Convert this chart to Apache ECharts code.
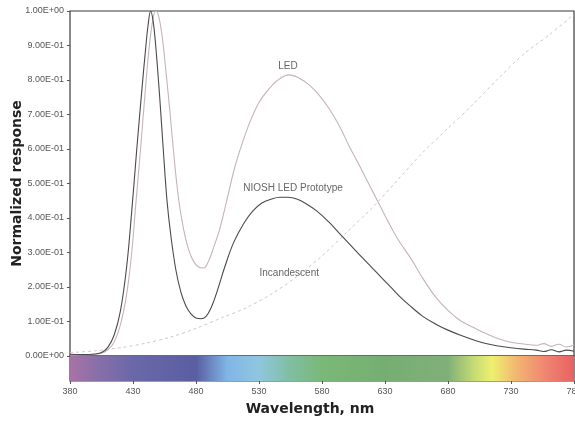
<!DOCTYPE html>
<html><head><meta charset="utf-8">
<script src="https://cdn.jsdelivr.net/npm/echarts@6/dist/echarts.min.js"></script>
<style>html,body{margin:0;padding:0;background:#fff}#c{width:575px;height:421px}</style>
</head><body><div id="c"></div>
<script>
// NIOSH LED Prototype spectrum
const nioshWl = [380,390,400,405,410,415,420,425,429,433,437,440,442,444,446,448,451,454,457,460,464,468,472,476,480,484,488,492,497,503,510,518,525,532,540,547,553,560,568,576,585,594,603,612,620,627,635,643,651,660,670,680,690,700,710,720,730,740,750,756,762,768,774,780];
const nioshVal = [0.005,0.004,0.006,0.01,0.025,0.06,0.13,0.26,0.42,0.6,0.77,0.89,0.96,1.0,0.97,0.9,0.76,0.6,0.45,0.35,0.25,0.185,0.145,0.122,0.11,0.108,0.115,0.14,0.19,0.26,0.33,0.385,0.42,0.443,0.455,0.46,0.46,0.455,0.44,0.42,0.39,0.355,0.32,0.285,0.255,0.228,0.198,0.168,0.142,0.115,0.093,0.075,0.06,0.047,0.036,0.029,0.024,0.02,0.017,0.013,0.018,0.012,0.017,0.014];
// LED spectrum
const ledWl = [380,390,400,405,410,415,420,425,429,432,436,440,443,446,448,450,453,456,459,462,466,470,474,478,482,486,490,494,499,505,511,517,523,530,537,545,554,562,570,578,586,594,602,610,617,624,631,640,651,660,670,680,690,700,710,720,730,740,750,756,762,768,774,780];
const ledVal = [0.003,0.003,0.005,0.008,0.018,0.04,0.09,0.18,0.3,0.43,0.6,0.78,0.9,0.98,1.0,0.99,0.93,0.83,0.72,0.6,0.46,0.37,0.31,0.275,0.258,0.255,0.275,0.315,0.37,0.46,0.55,0.62,0.68,0.735,0.77,0.8,0.815,0.805,0.785,0.755,0.715,0.665,0.605,0.55,0.5,0.45,0.4,0.34,0.28,0.225,0.172,0.132,0.102,0.083,0.065,0.05,0.04,0.035,0.031,0.036,0.028,0.034,0.026,0.032];
// Incandescent spectrum
const incWl = [380,400,420,440,460,480,500,520,540,560,580,600,620,640,660,680,700,720,740,760,780];
const incVal = [0.01,0.015,0.024,0.037,0.055,0.08,0.11,0.14,0.18,0.23,0.29,0.36,0.43,0.51,0.59,0.66,0.73,0.805,0.875,0.93,0.99];
// Curve labels
const curveLabels = [
  {name:'LED', x:553, y:0.84},
  {name:'NIOSH LED Prototype', x:557, y:0.487},
  {name:'Incandescent', x:554, y:0.24}
];
// Spectrum colour bar stops (wavelength, colour)
const specWl = [380,400,430,480,505,530,555,580,630,680,700,715,735,760,780];
const specCol = ['#a873a6','#8a70a8','#6a68a8','#5a5ea2','#80b6e6','#90c6de','#80bea2','#7ab878','#76ae72','#80b078','#c4da74','#eef070','#f2b472','#ef8070','#e86262'];

const zip = (a,b)=>a.map((v,i)=>[v,b[i]]);
function fmtE(v){
  if (Math.abs(v) < 1e-9) return '0.00E+00';
  let e = Math.floor(Math.log10(v) + 1e-9);
  let m = v/Math.pow(10,e);
  let s = e<0?'-':'+';
  let a = Math.abs(e);
  return m.toFixed(2)+'E'+s+(a<10?'0':'')+a;
}
const chart = echarts.init(document.getElementById('c'), null, {renderer:'canvas'});
const stops = specWl.map((w,i)=>({offset:(w-380)/400, color:specCol[i]}));
chart.setOption({
  animation:false,
  backgroundColor:'#fff',
  grid:[
    {left:70, right:1, top:11, height:345, show:true, borderColor:'#3a3a3a', borderWidth:1.2, backgroundColor:'transparent', containLabel:false, outerBoundsMode:'none'},
    {left:70, right:1, top:356, height:25, show:true, borderColor:'#3a3a3a', borderWidth:1.2, backgroundColor:'transparent', containLabel:false, outerBoundsMode:'none'}
  ],
  xAxis:[
    {gridIndex:0, type:'value', min:380, max:780, interval:50, axisLabel:{show:false}, axisTick:{show:false}, axisLine:{show:false}, splitLine:{show:false}},
    {gridIndex:1, type:'value', min:380, max:780, interval:50, position:'bottom',
     axisLine:{show:false}, axisTick:{show:true, length:3, lineStyle:{color:'#555'}}, splitLine:{show:false},
     axisLabel:{color:'#555', fontSize:9, fontFamily:'Liberation Sans, Arial', margin:6, hideOverlap:false},
     name:'Wavelength, nm', nameLocation:'middle', nameGap:21, nameMoveOverlap:false,
     nameTextStyle:{fontSize:14, fontWeight:'bold', color:'#222', fontFamily:'DejaVu Sans', padding:[0,24,0,0]}}
  ],
  yAxis:[
    {gridIndex:0, type:'value', min:0, max:1, interval:0.1,
     axisLine:{show:false}, axisTick:{show:true, length:3, lineStyle:{color:'#555'}}, splitLine:{show:false},
     axisLabel:{color:'#555', fontSize:9, fontFamily:'Liberation Sans, Arial', formatter:fmtE, margin:6},
     name:'Normalized response', nameLocation:'middle', nameGap:46, nameMoveOverlap:false,
     nameTextStyle:{fontSize:14, fontWeight:'bold', color:'#222', fontFamily:'DejaVu Sans'}},
    {gridIndex:1, type:'value', min:0, max:1, show:false}
  ],
  series:[
    {type:'line', xAxisIndex:0, yAxisIndex:0, data:zip(incWl,incVal), smooth:0.3, showSymbol:false,
     lineStyle:{color:'#d3c6ca', width:1, type:[3,3]}, z:2},
    {type:'line', xAxisIndex:0, yAxisIndex:0, data:zip(ledWl,ledVal), smooth:0.4, showSymbol:false,
     lineStyle:{color:'#c6b3b9', width:1.1}, z:3},
    {type:'line', xAxisIndex:0, yAxisIndex:0, data:zip(nioshWl,nioshVal), smooth:0.4, showSymbol:false,
     lineStyle:{color:'#4a4a4e', width:1.1}, z:4,
     markPoint:{symbol:'circle', symbolSize:0, silent:true,
       label:{show:true, position:'inside', color:'#666', fontSize:10, fontFamily:'Liberation Sans, Arial', formatter:'{b}'},
       data:curveLabels.map(d=>({name:d.name, coord:[d.x,d.y]}))}},
    {type:'line', xAxisIndex:1, yAxisIndex:1, data:[[380,0],[780,0]], showSymbol:false, lineStyle:{width:0},
     markArea:{silent:true, itemStyle:{color:new echarts.graphic.LinearGradient(0,0,1,0,stops)},
       data:[[{coord:[380,0]},{coord:[780,1]}]]}}
  ]
});
</script></body></html>
